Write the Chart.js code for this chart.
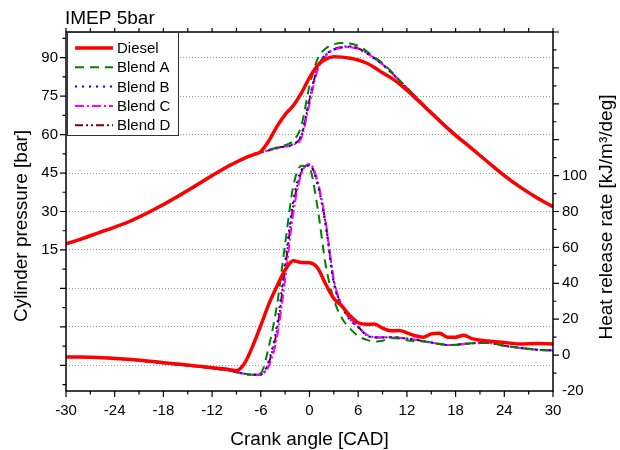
<!DOCTYPE html>
<html>
<head>
<meta charset="utf-8">
<title>IMEP 5bar</title>
<script src="https://cdn.jsdelivr.net/npm/chart.js@4.4.1/dist/chart.umd.min.js"></script>
<style>
  body { margin: 0; background: #fff; }
  #wrap { width: 620px; height: 450px; }
</style>
</head>
<body>
<div id="wrap"><canvas id="imep-chart" width="620" height="450"></canvas></div>
<script>
// crank angle sample points [CAD]
const crankAngle = [-30, -28, -26, -24, -22, -20, -18, -16, -14, -12, -11, -10, -9, -8, -7, -6, -5, -4, -3, -2, -1,
  0, 1, 2, 3, 4, 5, 6, 7, 8, 9, 10, 11, 12, 13, 14, 15, 16, 17, 18, 19, 20, 22, 24, 26, 28, 30];

// cylinder pressure [bar]
const pressureDiesel = [17.4, 19.4, 21.7, 23.9, 26.4, 29.4, 32.7, 36.3, 40.1, 44.0, 45.9, 47.7, 49.3, 50.8, 52.1, 53.4, 57.6, 63.2, 67.8, 71.3, 76.2,
  82.2, 87.0, 89.4, 90.3, 90.2, 89.8, 89.1, 87.9, 86.2, 84.1, 82.2, 80.0, 77.3, 74.4, 71.4, 68.4, 65.4, 62.5, 59.7, 57.1, 54.5, 49.2, 44.0, 39.4, 35.4, 31.9];
const pressureBlendA = [17.3, 19.3, 21.6, 23.8, 26.3, 29.3, 32.6, 36.2, 40.0, 43.9, 45.8, 47.6, 49.2, 50.7, 52.0, 53.2, 54.1, 55.0, 55.9, 57.6, 63.5,
  79.0, 89.5, 93.6, 95.2, 95.7, 95.5, 94.6, 92.6, 90.2, 87.9, 84.9, 81.5, 78.3, 75.1, 71.9, 68.8, 65.8, 62.8, 60.0, 57.4, 54.7, 49.4, 44.2, 39.6, 35.6, 32.0];
const pressureBlendB = [17.2, 19.2, 21.5, 23.7, 26.2, 29.2, 32.5, 36.1, 39.9, 43.8, 45.7, 47.5, 49.1, 50.6, 51.9, 53.0, 53.9, 54.7, 55.4, 56.2, 60.0,
  74.0, 86.5, 91.2, 93.2, 94.0, 94.2, 93.4, 91.8, 89.6, 87.3, 84.4, 81.2, 78.0, 75.0, 71.8, 68.7, 65.7, 62.7, 59.9, 57.3, 54.6, 49.3, 44.1, 39.5, 35.5, 31.9];
const pressureBlendC = [17.2, 19.2, 21.5, 23.7, 26.2, 29.2, 32.5, 36.1, 39.9, 43.8, 45.7, 47.5, 49.1, 50.6, 51.9, 53.0, 53.8, 54.6, 55.3, 56.0, 58.6,
  72.0, 85.2, 90.6, 93.0, 93.9, 94.1, 93.4, 91.9, 89.7, 87.4, 84.5, 81.3, 78.1, 75.0, 71.8, 68.7, 65.7, 62.7, 59.9, 57.3, 54.6, 49.3, 44.1, 39.5, 35.5, 31.9];
const pressureBlendD = [17.3, 19.3, 21.6, 23.8, 26.3, 29.3, 32.6, 36.2, 40.0, 43.9, 45.8, 47.6, 49.2, 50.7, 52.0, 53.1, 54.0, 54.8, 55.5, 56.3, 59.5,
  73.5, 86.2, 91.0, 93.3, 94.2, 94.4, 93.6, 92.0, 89.8, 87.4, 84.5, 81.3, 78.1, 75.0, 71.9, 68.8, 65.8, 62.8, 60.0, 57.4, 54.7, 49.4, 44.2, 39.6, 35.6, 32.0];

// heat release rate [kJ/m3/deg]
const hrrDiesel = [-1.0, -1.1, -1.4, -1.9, -2.5, -3.3, -4.2, -5.1, -6.0, -7.0, -7.5, -8.0, -8.7, -4.5, 5.0, 16.5, 28.5, 38.5, 47.5, 52.6, 51.6,
  51.4, 48.5, 39.5, 31.5, 27.2, 22.0, 18.0, 17.2, 17.3, 15.0, 13.5, 13.7, 12.4, 10.8, 10.0, 11.8, 12.2, 10.0, 10.0, 11.0, 9.2, 7.8, 7.0, 6.2, 6.4, 6.2];
const hrrBlendA = [-1.0, -1.2, -1.5, -2.0, -2.6, -3.5, -4.5, -5.4, -6.3, -7.3, -7.9, -8.5, -9.4, -10.3, -11.0, -10.0, 5.0, 28.0, 62.0, 94.0, 105.5,
  104.0, 82.0, 50.0, 31.0, 20.5, 14.8, 10.6, 8.6, 7.6, 8.0, 9.5, 9.2, 8.3, 7.8, 7.6, 7.0, 6.2, 5.6, 5.7, 6.2, 6.6, 6.8, 5.2, 4.0, 3.0, 2.6];
const hrrBlendB = [-1.0, -1.2, -1.5, -2.0, -2.6, -3.5, -4.5, -5.4, -6.3, -7.3, -7.9, -8.5, -9.5, -10.4, -11.0, -10.8, -3.0, 17.0, 52.0, 86.0, 103.0,
  105.5, 95.0, 72.0, 40.0, 27.0, 19.5, 15.5, 11.0, 9.8, 9.8, 10.0, 9.7, 9.2, 8.7, 7.8, 7.0, 6.2, 5.6, 5.7, 6.2, 6.6, 6.8, 5.2, 4.0, 3.0, 2.6];
const hrrBlendC = [-1.0, -1.2, -1.5, -2.0, -2.6, -3.5, -4.5, -5.4, -6.3, -7.3, -7.9, -8.5, -9.5, -10.4, -11.0, -10.6, -6.0, 10.0, 42.0, 79.0, 101.0,
  106.5, 97.0, 74.0, 42.0, 28.0, 20.5, 16.0, 11.5, 10.0, 9.9, 10.0, 9.7, 9.2, 8.6, 7.8, 7.0, 6.2, 5.6, 5.7, 6.2, 6.6, 6.8, 5.2, 4.0, 3.0, 2.6];
const hrrBlendD = [-1.0, -1.2, -1.5, -2.0, -2.6, -3.5, -4.5, -5.4, -6.3, -7.3, -7.9, -8.5, -9.5, -10.4, -11.0, -10.9, -4.0, 14.0, 48.0, 83.0, 102.0,
  106.0, 96.0, 73.0, 41.0, 27.5, 20.0, 15.8, 11.2, 10.0, 9.8, 10.0, 9.7, 9.2, 8.7, 7.8, 7.0, 6.2, 5.6, 5.7, 6.2, 6.6, 6.8, 5.2, 4.0, 3.0, 2.6];

// axis tick labels
const angleTicks = [-30, -24, -18, -12, -6, 0, 6, 12, 18, 24, 30];
const pressureTicks = [-30, -15, 0, 15, 30, 45, 60, 75, 90];
const hrrTicks = [-20, 0, 20, 40, 60, 80, 100];

const seriesNames = ['Diesel', 'Blend A', 'Blend B', 'Blend C', 'Blend D'];
const pressureSeries = [pressureDiesel, pressureBlendA, pressureBlendB, pressureBlendC, pressureBlendD];
const hrrSeries = [hrrDiesel, hrrBlendA, hrrBlendB, hrrBlendC, hrrBlendD];

const lineStyles = [
  { color: '#ff0000', width: 3.5, dash: [] },
  { color: '#008000', width: 2, dash: [9, 6] },
  { color: '#0000ff', width: 2, dash: [2, 5] },
  { color: '#ff00ff', width: 2, dash: [9, 3, 2, 3] },
  { color: '#800000', width: 2, dash: [8, 3, 2, 3, 2, 3] },
];

Chart.defaults.font.family = "'Liberation Sans', Arial, sans-serif";
Chart.defaults.color = '#000';

function makeDataset(name, values, style, axis, showInLegend) {
  return {
    label: name,
    data: crankAngle.map((a, i) => ({ x: a, y: values[i] })),
    yAxisID: axis,
    borderColor: style.color,
    borderWidth: style.width,
    borderDash: style.dash,
    pointRadius: 0,
    fill: false,
    cubicInterpolationMode: 'monotone',
    inLegend: showInLegend,
  };
}

const datasets = [];
seriesNames.forEach((name, i) => {
  datasets.push(makeDataset(name, pressureSeries[i], lineStyles[i], 'y', true));
});
seriesNames.forEach((name, i) => {
  datasets.push(makeDataset(name, hrrSeries[i], lineStyles[i], 'y2', false));
});

// frame, tick marks, titles and the boxed legend
const decorations = {
  id: 'decorations',
  afterDatasetsDraw(chart) {
    const ctx = chart.ctx;
    const area = chart.chartArea;
    const sx = chart.scales.x, sy = chart.scales.y, sy2 = chart.scales.y2;
    ctx.save();
    ctx.strokeStyle = '#000';
    ctx.lineWidth = 1.5;
    ctx.setLineDash([]);
    ctx.strokeRect(area.left, area.top, area.right - area.left, area.bottom - area.top);

    ctx.lineWidth = 1.2;
    ctx.beginPath();
    for (let v = -30; v <= 30; v += 3) {
      const p = sx.getPixelForValue(v);
      const len = v % 6 === 0 ? 6 : 3.5;
      ctx.moveTo(p, area.bottom); ctx.lineTo(p, area.bottom + len);
      ctx.moveTo(p, area.top); ctx.lineTo(p, area.top - 4);
    }
    for (let v = -37.5; v <= 100; v += 7.5) {
      const p = sy.getPixelForValue(v);
      const len = v % 15 === 0 ? 6 : 3.5;
      ctx.moveTo(area.left, p); ctx.lineTo(area.left - len, p);
    }
    for (let v = -10; v <= 180; v += 10) {
      const p = sy2.getPixelForValue(v);
      const len = v % 20 === 0 ? 6 : 3.5;
      ctx.moveTo(area.right, p); ctx.lineTo(area.right + len, p);
    }
    ctx.stroke();
    ctx.restore();
  },
  afterDraw(chart) {
    const ctx = chart.ctx;
    const area = chart.chartArea;
    ctx.save();
    ctx.fillStyle = '#000';

    // title
    ctx.font = "19px 'Liberation Sans', Arial, sans-serif";
    ctx.textAlign = 'left';
    ctx.textBaseline = 'alphabetic';
    ctx.fillText('IMEP 5bar', 65, 24);

    // axis titles
    ctx.textAlign = 'center';
    ctx.textBaseline = 'middle';
    ctx.fillText('Crank angle [CAD]', (area.left + area.right) / 2, 440);
    ctx.save();
    ctx.translate(22, 226);
    ctx.rotate(-Math.PI / 2);
    ctx.fillText('Cylinder pressure [bar]', 0, 0);
    ctx.restore();
    ctx.save();
    ctx.translate(607, 217);
    ctx.rotate(-Math.PI / 2);
    ctx.fillText('Heat release rate [kJ/m³/deg]', 0, 0);
    ctx.restore();

    // legend box
    const box = { x: 67, y: 32, w: 111, h: 103 };
    ctx.fillStyle = '#fff';
    ctx.fillRect(box.x, box.y, box.w, box.h);
    ctx.strokeStyle = '#333';
    ctx.lineWidth = 1;
    ctx.strokeRect(box.x + 0.5, box.y + 0.5, box.w, box.h);
    ctx.font = "15px 'Liberation Sans', Arial, sans-serif";
    ctx.textAlign = 'left';
    ctx.textBaseline = 'middle';
    chart.data.datasets.filter(d => d.inLegend).forEach((d, i) => {
      const rowY = 48 + i * 19.3;
      ctx.strokeStyle = d.borderColor;
      ctx.lineWidth = d.borderWidth;
      ctx.setLineDash(d.borderDash);
      ctx.beginPath();
      ctx.moveTo(75, rowY);
      ctx.lineTo(113, rowY);
      ctx.stroke();
      ctx.setLineDash([]);
      ctx.fillStyle = '#000';
      ctx.fillText(d.label, 117, rowY + 1);
    });
    ctx.restore();
  }
};

const imepChart = new Chart(document.getElementById('imep-chart').getContext('2d'), {
  type: 'line',
  data: { datasets: datasets },
  options: {
    responsive: false,
    animation: false,
    layout: { padding: { top: 32, left: 0, right: 0, bottom: 0 } },
    plugins: {
      legend: { display: false },
      tooltip: { enabled: false },
      title: { display: false },
    },
    scales: {
      x: {
        type: 'linear',
        position: 'bottom',
        min: -30,
        max: 30,
        afterBuildTicks: (s) => { s.ticks = angleTicks.map(v => ({ value: v })); },
        afterFit: (s) => { s.height = 59; },
        ticks: { font: { size: 15 }, color: '#000', padding: 11, maxRotation: 0 },
        grid: { drawOnChartArea: false, drawTicks: false },
        border: { display: false },
      },
      y: {
        type: 'linear',
        position: 'left',
        min: -40,
        max: 100,
        afterBuildTicks: (s) => { s.ticks = pressureTicks.map(v => ({ value: v })); },
        afterFit: (s) => { s.width = 66; },
        ticks: {
          font: { size: 15 },
          color: '#000',
          padding: 8,
          callback: (v) => (v >= 15 ? v : ''),
        },
        grid: { color: '#9a9a9a', lineWidth: 1, drawTicks: false },
        border: { display: false, dash: [1, 2] },
      },
      y2: {
        type: 'linear',
        position: 'right',
        min: -20,
        max: 180,
        afterBuildTicks: (s) => { s.ticks = hrrTicks.map(v => ({ value: v })); },
        afterFit: (s) => { s.width = 67; },
        ticks: { font: { size: 15 }, color: '#000', padding: 9 },
        grid: { drawOnChartArea: false, drawTicks: false },
        border: { display: false },
      },
    },
  },
  plugins: [decorations],
});
</script>
</body>
</html>
